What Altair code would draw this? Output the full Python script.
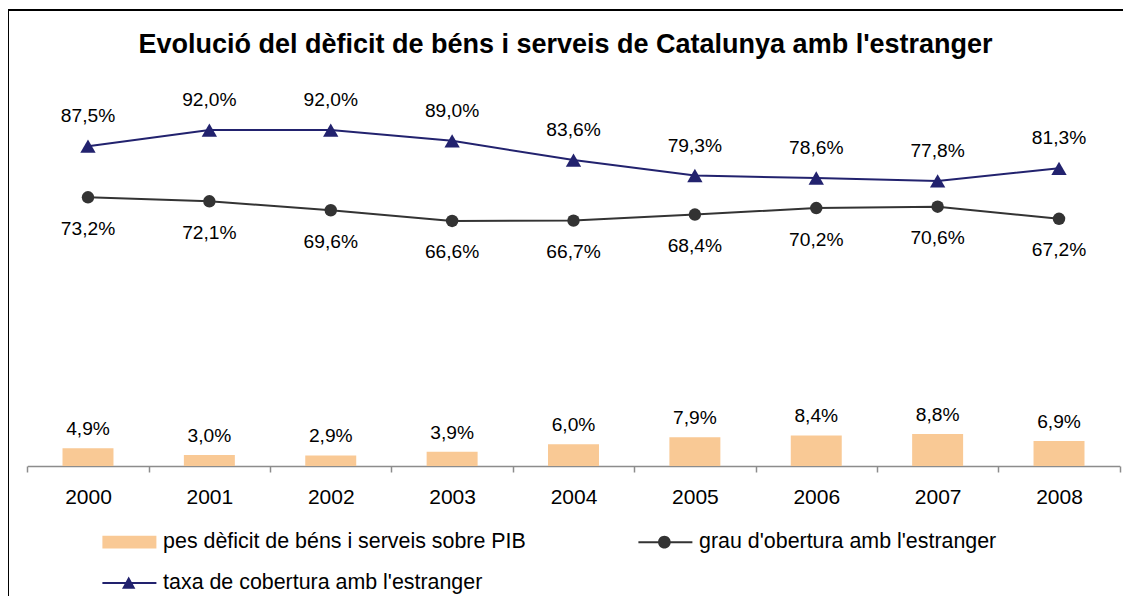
import altair as alt
import pandas as pd

# ---------------- data ----------------
years = ["2000", "2001", "2002", "2003", "2004", "2005", "2006", "2007", "2008"]
pes_deficit = [4.9, 3.0, 2.9, 3.9, 6.0, 7.9, 8.4, 8.8, 6.9]
grau_obertura = [73.2, 72.1, 69.6, 66.6, 66.7, 68.4, 70.2, 70.6, 67.2]
taxa_cobertura = [87.5, 92.0, 92.0, 89.0, 83.6, 79.3, 78.6, 77.8, 81.3]

# legend order (Vega fills legend columns top-to-bottom)
series_names = [
    "pes dèficit de béns i serveis sobre PIB",
    "taxa de cobertura amb l'estranger",
    "grau d'obertura amb l'estranger",
]
series_colors = ["#F9C995", "#22226E", "#333333"]
title_text = "Evolució del dèficit de béns i serveis de Catalunya amb l'estranger"

# legend symbol glyphs (unit paths, scaled by Vega)
series_symbols = [
    "M-1,-0.63H4.4V0.63H-1Z",
    "M-1,-0.1H4.4V0.1H-1Z M1.63,-0.67L2.3,0.57H0.96Z",
    "M-1,-0.1H4.4V0.1H-1Z M0.97,0A0.63,0.63,0,1,1,2.23,0A0.63,0.63,0,1,1,0.97,0Z",
]


def fmt(v):
    return f"{v:.1f}%".replace(".", ",")


df = pd.DataFrame({
    "any": years,
    "pes": pes_deficit,
    "grau": grau_obertura,
    "taxa": taxa_cobertura,
})
df["pes_lbl"] = [fmt(v) for v in pes_deficit]
df["grau_lbl"] = [fmt(v) for v in grau_obertura]
df["taxa_lbl"] = [fmt(v) for v in taxa_cobertura]
legend_df = pd.DataFrame({"serie": series_names})

# ---------------- layout ----------------
FONT = "Liberation Sans"
VIEW_W, VIEW_H = 1115, 600
AXIS_Y = 456
X_RANGE = [19.3, 1111.7]
BAR_Y_RANGE = [AXIS_Y, 92]
LINE_Y_RANGE = [449.4, 91.4]

x_enc = alt.X(
    "any:N",
    sort=years,
    title=None,
    scale=alt.Scale(range=X_RANGE, paddingInner=0, paddingOuter=0),
    axis=alt.Axis(
        labelAngle=0,
        labelFont=FONT,
        labelFontSize=21,
        labelColor="#000000",
        labelPadding=14,
        domainColor="#8c8c8c",
        domainWidth=1.5,
        tickColor="#8c8c8c",
        tickWidth=1.5,
        tickSize=6,
        tickBand="extent",
        grid=False,
        offset=-(VIEW_H - AXIS_Y),
    ),
)

bar_y = alt.Y("pes:Q", scale=alt.Scale(domain=[0, 100], range=BAR_Y_RANGE), axis=None)

bars = alt.Chart(df).mark_bar(
    color=series_colors[0], width=alt.RelativeBandSize(0.42)
).encode(x=x_enc, y=bar_y)
bar_text = alt.Chart(df).mark_text(
    dy=-19, font=FONT, fontSize=19.2, color="#000000"
).encode(x=x_enc, y=bar_y, text="pes_lbl:N")


def line_layers(field, label_field, color, shape, size, dy):
    y = alt.Y(f"{field}:Q", scale=alt.Scale(domain=[0, 100], range=LINE_Y_RANGE), axis=None)
    base = alt.Chart(df)
    ln = base.mark_line(color=color, strokeWidth=2).encode(x=x_enc, y=y)
    pt = base.mark_point(shape=shape, filled=True, size=size, color=color, opacity=1).encode(x=x_enc, y=y)
    tx = base.mark_text(dy=dy, font=FONT, fontSize=19.2, color="#000000").encode(
        x=x_enc, y=y, text=f"{label_field}:N"
    )
    return [ln, pt, tx]


grau_layers = line_layers("grau", "grau_lbl", "#333333", "circle", 155, 31.5)
taxa_layers = line_layers("taxa", "taxa_lbl", "#22226E", "triangle-up", 235, -30)

legend_props = dict(
    orient="none",
    legendX=93.7,
    legendY=521,
    columns=2,
    columnPadding=111,
    rowPadding=18.4,
    title=None,
    labelFont=FONT,
    labelFontSize=21.4,
    labelColor="#000000",
    labelLimit=1000,
    labelOffset=40,
    symbolSize=400,
    symbolStrokeWidth=0,
    symbolOpacity=1,
    padding=0,
)

legend_layer = alt.Chart(legend_df).mark_point(filled=True, opacity=0).encode(
    color=alt.Color(
        "serie:N",
        sort=series_names,
        scale=alt.Scale(domain=series_names, range=series_colors),
        legend=alt.Legend(**legend_props),
    ),
    shape=alt.Shape(
        "serie:N",
        sort=series_names,
        scale=alt.Scale(domain=series_names, range=series_symbols),
        legend=alt.Legend(**legend_props),
    ),
)

chart = (
    alt.layer(bars, bar_text, *grau_layers, *taxa_layers, legend_layer)
    .resolve_scale(y="independent")
    .properties(
        width=VIEW_W,
        height=VIEW_H,
        padding={"left": 0, "top": 2, "right": 0, "bottom": 0},
        title=alt.TitleParams(
            text=title_text,
            font=FONT,
            fontSize=27,
            fontWeight="bold",
            color="#000000",
            anchor="middle",
            baseline="alphabetic",
            offset=-69.5,
        ),
    )
    .configure_view(
        stroke="#000000",
        strokeWidth=2,
        strokeDash=[VIEW_W, VIEW_H + VIEW_W, VIEW_H],
    )
)

chart.save("out.html", embed_options={"renderer": "svg", "actions": False})
